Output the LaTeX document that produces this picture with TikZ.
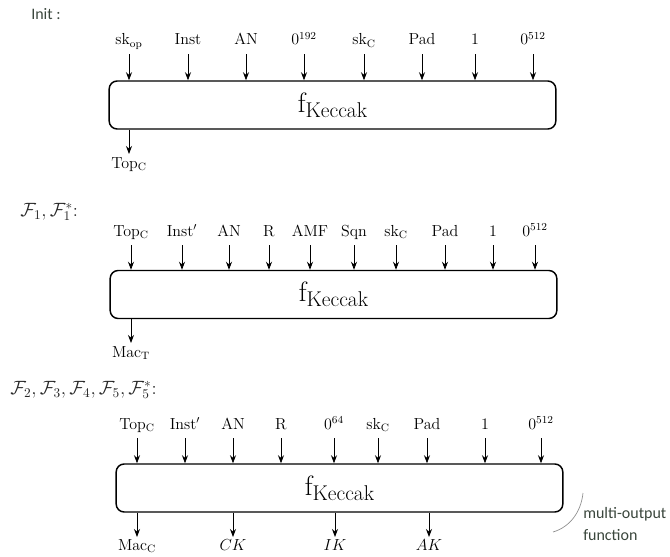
\documentclass[tikz,border=0pt]{standalone}
\usepackage{fontspec}
\newfontfamily\notefont{Carlito}
\usetikzlibrary{arrows.meta}
\definecolor{notegray}{RGB}{58,70,60}
\colorlet{curvegray}{black!45}
\newcommand{\fKeccak}{{\fontsize{21}{24}\selectfont f}\raisebox{-3.5pt}{\fontsize{16}{18}\selectfont Keccak}}

\begin{document}
\begin{tikzpicture}[x=0.75pt,y=-0.75pt]
\tikzset{KeccakBox/.style ={draw, line width=1.1pt, rounded corners=6pt, minimum width=335pt, minimum height=36pt, inner sep=0pt}}
\tikzset{InStyle/.style ={font=\fontsize{12}{14}\selectfont, anchor=base, inner sep=0pt}}
\tikzset{OutStyle/.style ={font=\fontsize{12}{14}\selectfont, anchor=north, inner sep=2.5pt}}
\tikzset{EdgeStyle/.style ={-{Stealth[length=6pt,width=4.5pt]}, line width=0.6pt}}
\tikzset{NoteStyle/.style ={font=\notefont\fontsize{12}{16.5}\selectfont, color=notegray, anchor=west, inner sep=0pt}}
\tikzset{FunStyle/.style ={font=\fontsize{14}{16}\selectfont, color=black!85, anchor=west, inner sep=0pt}}
\useasboundingbox (0,0) rectangle (670,556);

% Init
\node[NoteStyle] (init) at (31,14) {Init :};
\node[KeccakBox] (k1) at (332.5,105) {\fKeccak};
\foreach \x/\t [count=\i] in {129/sk$_\mathrm{op}$, 188/Inst, 246/AN, 304/$0^{192}$, 364/sk$_\mathrm{C}$, 422/Pad, 475/1, 533/$0^{512}$}{
  \node[InStyle] (a\i) at (\x,45) {\t};
  \draw[EdgeStyle] ([yshift=-7pt]a\i.base) -- (a\i.base |- k1.north);
}
\node[OutStyle] (topc) at (129,154) {Top$_\mathrm{C}$};
\draw[EdgeStyle] (topc |- k1.south) -- (topc.north);

% F1, F1*
\node[FunStyle] (fun1) at (20,212) {$\mathcal{F}_1,\mathcal{F}_1^*$:};
\node[KeccakBox] (k2) at (333.5,294.5) {\fKeccak};
\foreach \x/\t [count=\i] in {131/Top$_\mathrm{C}$, 182/Inst$'$, 229/AN, 269/R, 310/AMF, 354/Sqn, 396/sk$_\mathrm{C}$, 445/Pad, 493/1, 535/$0^{512}$}{
  \node[InStyle] (b\i) at (\x,236) {\t};
  \draw[EdgeStyle] ([yshift=-7pt]b\i.base) -- (b\i.base |- k2.north);
}
\node[OutStyle] (mact) at (131,343) {Mac$_\mathrm{T}$};
\draw[EdgeStyle] (mact |- k2.south) -- (mact.north);

% F2 ... F5*
\node[FunStyle] (fun2) at (10,390) {$\mathcal{F}_2,\mathcal{F}_3,\mathcal{F}_4,\mathcal{F}_5,\mathcal{F}_5^*$:};
\node[KeccakBox] (k3) at (339.5,488) {\fKeccak};
\foreach \x/\t [count=\i] in {137/Top$_\mathrm{C}$, 185/Inst$'$, 233/AN, 281/R, 334/$0^{64}$, 378/sk$_\mathrm{C}$, 427/Pad, 485/1, 541/$0^{512}$}{
  \node[InStyle] (c\i) at (\x,429) {\t};
  \draw[EdgeStyle] ([yshift=-7pt]c\i.base) -- (c\i.base |- k3.north);
}
\foreach \x/\t [count=\i] in {137/Mac$_\mathrm{C}$, 233/$CK$, 335/$IK$, 429/$AK$}{
  \node[OutStyle, inner sep=1.5pt] (d\i) at (\x,537) {\t};
  \draw[EdgeStyle] (d\i |- k3.south) -- (d\i.north);
}
\node[NoteStyle, align=left] (multi) at (583,524) {multi-output\\function};
\draw[curvegray, line width=0.5pt] (553,532) .. controls (570,527) and (581,512) .. (583,493);
\end{tikzpicture}
\end{document}
